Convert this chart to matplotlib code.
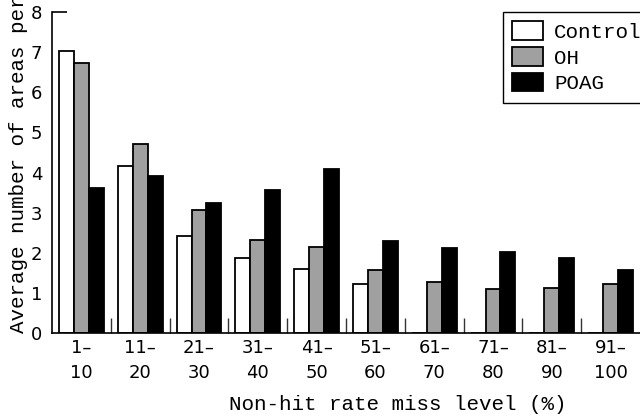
import matplotlib
matplotlib.use("Agg")
import matplotlib.pyplot as plt
import numpy as np

# data
groups = ["1–\n10", "11–\n20", "21–\n30", "31–\n40", "41–\n50",
          "51–\n60", "61–\n70", "71–\n80", "81–\n90", "91–\n100"]
control = [7.03, 4.17, 2.42, 1.86, 1.59, 1.21, 0, 0, 0, 0]
oh = [6.72, 4.72, 3.07, 2.32, 2.14, 1.56, 1.28, 1.09, 1.12, 1.21]
poag = [3.62, 3.92, 3.24, 3.57, 4.09, 2.29, 2.11, 2.02, 1.86, 1.56]

mono = "Liberation Mono"
sans = ["DejaVu Sans"]

fig = plt.figure(figsize=(6.4, 4.17), dpi=100)
ax = fig.add_axes([52 / 640, 1 - 333 / 417, 1 - 52 / 640, 321 / 417])

x = np.arange(len(groups))
w = 0.255
ax.bar(x - w, control, w, color="white", edgecolor="black", linewidth=1.3, label="Control")
ax.bar(x, oh, w, color="#a0a0a0", edgecolor="black", linewidth=1.3, label="OH")
ax.bar(x + w, poag, w, color="black", edgecolor="black", linewidth=1.3, label="POAG")

ax.set_xlim(-0.5, len(groups) - 0.5)
ax.set_ylim(0, 8)
ax.spines["top"].set_visible(False)
ax.spines["right"].set_visible(False)
ax.spines["left"].set_linewidth(1.2)
ax.spines["bottom"].set_linewidth(1.2)

# x: labels at group centres, small inward separators between groups
ax.set_xticks(x)
ax.set_xticklabels(groups, family=sans, fontsize=13, linespacing=1.55)
ax.tick_params(axis="x", which="major", length=0, pad=4)
ax.set_xticks(x[1:] - 0.5, minor=True)
ax.tick_params(axis="x", which="minor", direction="in", length=11, width=1, color="#333333")

# y: only the top tick is drawn, as a short inward stub
ax.set_yticks(range(0, 9))
ax.set_yticklabels([str(v) for v in range(0, 9)], family=sans, fontsize=13)
ax.tick_params(axis="y", direction="in", length=0, pad=7)
top_tick = ax.yaxis.get_major_ticks()[-1]
top_tick.tick1line.set_markersize(11)
top_tick.tick1line.set_markeredgewidth(1.2)

ax.set_ylabel("Average number of areas per eye", family=mono, fontsize=15, loc="bottom")
ax.yaxis.set_label_coords(-0.04, 0.0)
fig.text(398 / 640, 1 - 405 / 417, "Non-hit rate miss level (%)", family=mono,
         fontsize=15, ha="center", va="center")

leg = ax.legend(loc="upper left", bbox_to_anchor=(503 / 640, 1 - 12 / 417),
                bbox_transform=fig.transFigure, prop={"family": mono, "size": 15},
                fancybox=False, framealpha=1, edgecolor="black", borderaxespad=0,
                handlelength=1.45, handleheight=1.0, labelspacing=0.25,
                borderpad=0.45, handletextpad=0.55)
leg.get_frame().set_linewidth(1.0)

fig.savefig("out.png", dpi=100)
